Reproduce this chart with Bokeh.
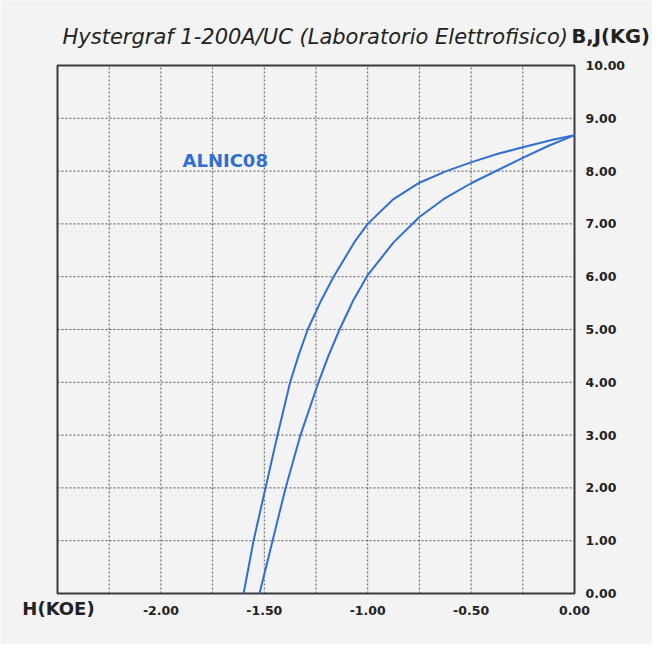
from bokeh.plotting import figure
from bokeh.models import FixedTicker, PrintfTickFormatter, Label, LinearAxis, Range1d
from bokeh.embed import file_html
from bokeh.resources import INLINE

# ---- data ----
outer_h = [0.0, -0.10, -0.25, -0.37, -0.49, -0.62, -0.75, -0.875, -1.00, -1.06, -1.165,
           -1.23, -1.29, -1.335, -1.375, -1.436, -1.494, -1.552, -1.60]
outer_b = [8.68, 8.60, 8.45, 8.33, 8.18, 8.00, 7.78, 7.47, 7.00, 6.68, 6.00,
           5.51, 5.00, 4.50, 4.00, 3.00, 2.00, 1.00, 0.00]

inner_h = [0.0, -0.125, -0.25, -0.50, -0.625, -0.75, -0.875, -1.00, -1.07, -1.136,
           -1.19, -1.238, -1.325, -1.397, -1.46, -1.523]
inner_b = [8.68, 8.48, 8.25, 7.77, 7.49, 7.13, 6.65, 6.03, 5.55, 5.00,
           4.50, 4.00, 3.00, 2.00, 1.00, 0.00]

x_min, x_max = -2.5, 0.0
y_min, y_max = 0.0, 10.0
x_tick_values = [-2.0, -1.5, -1.0, -0.5, 0.0]
x_grid_values = [-2.25, -2.0, -1.75, -1.5, -1.25, -1.0, -0.75, -0.5, -0.25]
y_tick_values = [0, 1, 2, 3, 4, 5, 6, 7, 8, 9, 10]
y_grid_values = [1, 2, 3, 4, 5, 6, 7, 8, 9]

title_text = "Hystergraf 1-200A/UC (Laboratorio Elettrofisico)"
y_label_text = "B,J(KG)"
x_label_text = "H(KOE)"
material_text = "ALNIC08"

# ---- layout (pixel placement of the plot box on the canvas) ----
W, H = 652, 644
BOX_L, BOX_R, BOX_T, BOX_B = 57, 574, 65, 593
sx = (BOX_R - BOX_L) / (x_max - x_min)
sy = (BOX_B - BOX_T) / (y_max - y_min)
xr = Range1d(x_min - BOX_L / sx, x_max + (W - BOX_R) / sx)
yr = Range1d(y_min - (H - BOX_B) / sy, y_max + BOX_T / sy)

def px_x(px):
    return x_min + (px - BOX_L) / sx

def px_y(py):
    return y_min + (BOX_B - py) / sy

BG = "#f3f3f3"
BLUE = "#2f6fd2"
INK = "#222222"
FONT = "DejaVu Sans"

p = figure(width=W, height=H, output_backend="svg", toolbar_location=None,
           x_range=xr, y_range=yr, x_axis_location=None, y_axis_location=None,
           min_border=0)
p.title.visible = False
p.grid.visible = False
p.background_fill_color = BG
p.border_fill_color = BG
p.outline_line_color = None

# axes fixed at the plot box edges
xax = LinearAxis(fixed_location=y_min, ticker=FixedTicker(ticks=x_tick_values),
                 formatter=PrintfTickFormatter(format="%.2f"))
yax = LinearAxis(fixed_location=x_max, ticker=FixedTicker(ticks=y_tick_values),
                 formatter=PrintfTickFormatter(format="%.2f"))
for ax in (xax, yax):
    ax.axis_line_color = None
    ax.major_tick_line_color = None
    ax.minor_tick_line_color = None
    ax.major_tick_out = 0
    ax.major_tick_in = 0
    ax.major_label_text_font = FONT
    ax.major_label_text_font_style = "bold"
    ax.major_label_text_font_size = "12.5px"
    ax.major_label_text_color = INK
xax.major_label_standoff = 12
yax.major_label_standoff = 11
p.add_layout(xax, "below")
p.add_layout(yax, "right")

# dotted grid inside the box
nxg, nyg = len(x_grid_values), len(y_grid_values)
p.segment(x0=x_grid_values, y0=[y_min] * nxg, x1=x_grid_values, y1=[y_max] * nxg,
          line_color="#555555", line_width=1, line_dash="2 2")
p.segment(x0=[x_min] * nyg, y0=y_grid_values, x1=[x_max] * nyg, y1=y_grid_values,
          line_color="#555555", line_width=1, line_dash="2 2")

# plot box
p.quad(left=[x_min], right=[x_max], bottom=[y_min], top=[y_max],
       fill_color=None, line_color="#3a3a3a", line_width=2)

# curves
p.line(outer_h, outer_b, line_color=BLUE, line_width=2, line_join="round")
p.line(inner_h, inner_b, line_color=BLUE, line_width=2, line_join="round")

# texts
p.add_layout(Label(x=px_x(182), y=px_y(160), text=material_text, text_font=FONT,
                   text_font_style="bold", text_font_size="18px", text_color=BLUE,
                   text_align="left", text_baseline="middle"))
p.add_layout(Label(x=px_x(62), y=px_y(36), text=title_text, text_font=FONT,
                   text_font_style="italic", text_font_size="21px", text_color=INK,
                   text_align="left", text_baseline="middle"))
p.add_layout(Label(x=px_x(571), y=px_y(36), text=y_label_text, text_font=FONT,
                   text_font_style="bold", text_font_size="19.5px", text_color=INK,
                   text_align="left", text_baseline="middle"))
p.add_layout(Label(x=px_x(58), y=px_y(608), text=x_label_text, text_font=FONT,
                   text_font_style="bold", text_font_size="18px", text_color=INK,
                   text_align="center", text_baseline="middle"))

open("out.html", "w").write(file_html(p, INLINE))
